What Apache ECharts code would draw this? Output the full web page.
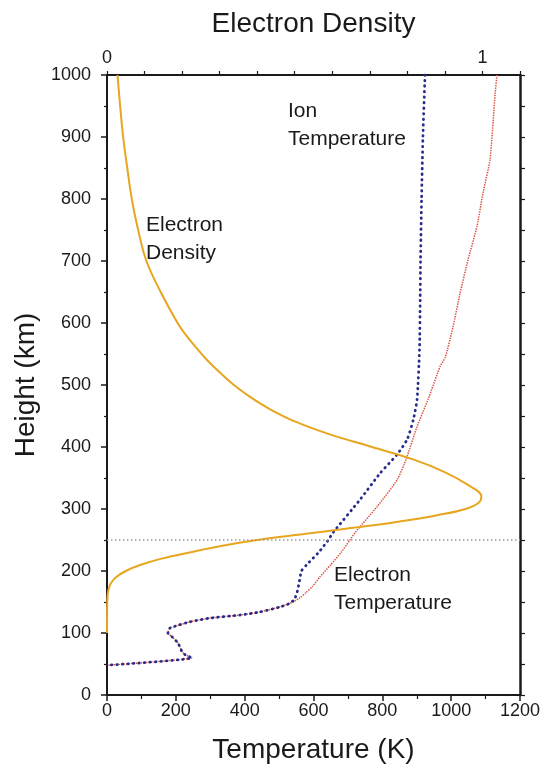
<!DOCTYPE html>
<html>
<head>
<meta charset="utf-8">
<script src="https://cdn.jsdelivr.net/npm/echarts@6/dist/echarts.min.js"></script>
<style>
  html, body { margin: 0; padding: 0; background: #ffffff; }
  #chart { width: 545px; height: 769px; }
</style>
</head>
<body>
<div id="chart"></div>
<script>
// Ionospheric profile: electron density (top axis) and ion / electron temperature (bottom axis) versus height

// Electron density, normalised to the peak (top axis)
const densityHeights = [1000, 950, 900, 850, 800, 750, 700, 650, 600, 580, 560, 540, 520, 500, 480, 460, 440, 420, 400, 380, 360, 340, 320, 310, 300, 290, 280, 270, 260, 250, 240, 230, 220, 210, 200, 190, 180, 170, 160, 140, 100];
const densityValues  = [0.028, 0.035, 0.043, 0.054, 0.066, 0.083, 0.105, 0.143, 0.188, 0.211, 0.238, 0.267, 0.301, 0.338, 0.383, 0.437, 0.505, 0.595, 0.706, 0.815, 0.898, 0.958, 0.997, 0.99, 0.955, 0.88, 0.78, 0.66, 0.53, 0.40, 0.30, 0.22, 0.145, 0.09, 0.05, 0.024, 0.01, 0.004, 0.0015, 0.0003, 0];

// Ion temperature (K)
const ionHeights = [1000, 900, 800, 700, 638, 557, 477, 444, 412, 388, 358, 315, 262, 250, 230, 210, 200, 180, 165, 155, 148, 142, 134, 129, 124, 118, 111, 108, 100, 94, 84, 70, 65, 60, 48];
const ionTemps   = [924, 918, 914, 911, 910, 908, 901, 890, 872, 843, 794, 735, 657, 643, 615, 580, 565, 558, 552, 545, 532, 503, 445, 387, 299, 241, 198, 183, 177, 189, 206, 218, 227, 246, 0];

// Electron temperature (K)
const elecHeights = [1000, 972, 864, 811, 756, 702, 648, 593, 545, 530, 477, 433, 380, 347, 304, 262, 250, 230, 210, 190, 175, 165, 157, 150, 148, 142, 134, 129, 124, 118, 111, 108, 100, 94, 84, 70, 65, 60, 48];
const elecTemps   = [1133, 1128, 1113, 1093, 1075, 1049, 1026, 1005, 983, 968, 933, 901, 869, 843, 785, 721, 706, 680, 650, 618, 597, 578, 561, 541, 532, 503, 445, 387, 299, 241, 198, 183, 177, 189, 206, 218, 227, 246, 0];

// Axis ranges and the reference height line
const tempRange = [0, 1200];
const densityRange = [0, 1.1];
const heightRange = [0, 1000];
const referenceHeight = 250;

// Curve annotations
const curveLabels = [
  { text: 'Ion\nTemperature', x: 288, y: 97 },
  { text: 'Electron\nDensity', x: 146, y: 211 },
  { text: 'Electron\nTemperature', x: 334, y: 561 }
];

const FONT = '"Liberation Sans", Arial, Helvetica, sans-serif';
const INK = '#1a1a1a';

const pairs = (xs, ys) => xs.map((x, i) => [x, ys[i]]);
const plain = v => String(Math.round(v));

const chart = echarts.init(document.getElementById('chart'), null, { renderer: 'canvas' });

const axisLine = { show: true, onZero: false, lineStyle: { color: INK, width: 2 } };
const labelStyle = { color: INK, fontSize: 18, fontFamily: FONT };

chart.setOption({
  animation: false,
  backgroundColor: '#ffffff',
  grid: { left: 107, right: 25, top: 75, bottom: 74, containLabel: false },
  xAxis: [
    {
      type: 'value', position: 'bottom',
      min: tempRange[0], max: tempRange[1], interval: 200,
      name: 'Temperature (K)', nameLocation: 'middle', nameGap: 41,
      nameTextStyle: { color: INK, fontSize: 28, fontFamily: FONT },
      axisLine: axisLine,
      axisTick: { show: true, inside: false, length: 6, lineStyle: { color: INK, width: 1.5 } },
      minorTick: { show: true, splitNumber: 2, length: 4, lineStyle: { color: INK, width: 1.2 } },
      axisLabel: Object.assign({ margin: 7, formatter: plain }, labelStyle),
      splitLine: { show: false }
    },
    {
      type: 'value', position: 'top',
      min: densityRange[0], max: densityRange[1], interval: 0.1,
      name: 'Electron Density', nameLocation: 'middle', nameGap: 37,
      nameTextStyle: { color: INK, fontSize: 28, fontFamily: FONT },
      axisLine: axisLine,
      axisTick: { show: true, inside: false, length: 4, lineStyle: { color: INK, width: 1.2 } },
      axisLabel: Object.assign({
        margin: 8,
        formatter: v => (Math.abs(v) < 1e-6 ? '0' : (Math.abs(v - 1) < 1e-6 ? '1' : ''))
      }, labelStyle),
      splitLine: { show: false }
    }
  ],
  yAxis: [
    {
      type: 'value', position: 'left',
      min: heightRange[0], max: heightRange[1], interval: 100,
      name: 'Height (km)', nameLocation: 'middle', nameGap: 65, nameRotate: 90,
      nameTextStyle: { color: INK, fontSize: 28, fontFamily: FONT },
      axisLine: axisLine,
      axisTick: { show: true, inside: false, length: 6, lineStyle: { color: INK, width: 1.5 } },
      minorTick: { show: true, splitNumber: 2, length: 3, lineStyle: { color: INK, width: 1.2 } },
      axisLabel: Object.assign({ margin: 16, formatter: plain }, labelStyle),
      splitLine: { show: false }
    },
    {
      type: 'value', position: 'right',
      min: heightRange[0], max: heightRange[1], interval: 50,
      axisLine: { show: true, onZero: false, lineStyle: { color: INK, width: 2.5 } },
      axisTick: { show: true, inside: false, length: 5, lineStyle: { color: INK, width: 1.2 } },
      axisLabel: { show: false },
      splitLine: { show: false }
    }
  ],
  series: [
    {
      name: 'Electron Temperature', type: 'line',
      xAxisIndex: 0, yAxisIndex: 0,
      data: pairs(elecTemps, elecHeights),
      showSymbol: false, symbol: 'none', smooth: 0.2,
      lineStyle: { color: '#d9513f', width: 1.5, type: [1.4, 1.1] },
      markLine: {
        silent: true, symbol: 'none',
        label: { show: false },
        lineStyle: { color: '#9a9a9a', width: 1.5, type: [1.5, 2.5] },
        data: [{ yAxis: referenceHeight }]
      },
      z: 2
    },
    {
      name: 'Ion Temperature', type: 'line',
      xAxisIndex: 0, yAxisIndex: 0,
      data: pairs(ionTemps, ionHeights),
      showSymbol: false, symbol: 'none', smooth: 0.2,
      lineStyle: { color: '#272c8c', width: 2.8, type: [0.5, 5], cap: 'round' },
      z: 3
    },
    {
      name: 'Electron Density', type: 'line',
      xAxisIndex: 1, yAxisIndex: 0,
      data: pairs(densityValues, densityHeights),
      showSymbol: false, symbol: 'none', smooth: 0.4,
      lineStyle: { color: '#e8a61e', width: 2 },
      z: 4
    }
  ],
  graphic: curveLabels.map(l => ({
    type: 'text', left: l.x, top: l.y, z: 10,
    style: { text: l.text, fill: INK, fontSize: 21, lineHeight: 28, fontFamily: FONT }
  }))
});
</script>
</body>
</html>
